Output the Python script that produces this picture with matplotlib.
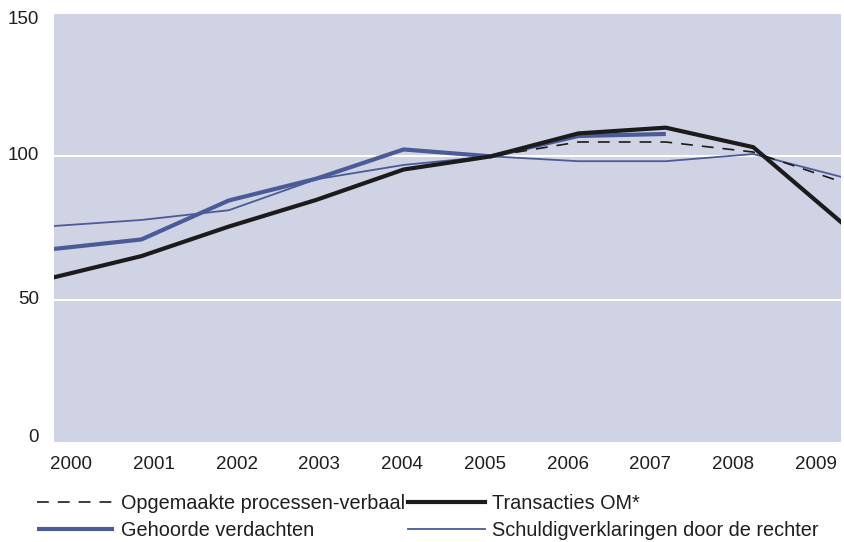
import numpy as np
import matplotlib
matplotlib.use("Agg")
import matplotlib.pyplot as plt
from matplotlib.transforms import ScaledTranslation

plt.rcParams['font.family'] = ['Liberation Sans', 'DejaVu Sans']
plt.rcParams['lines.scale_dashes'] = False

years = ['2000', '2001', '2002', '2003', '2004', '2005', '2006', '2007', '2008', '2009']
opgemaakte_pv = [57.8, 65.2, 75.5, 84.8, 95.3, 100.0, 105.0, 105.0, 101.5, 91.2]
transacties_om = [57.8, 65.2, 75.5, 84.8, 95.4, 100.0, 108.0, 110.0, 103.2, 77.2]
gehoorde_verdachten = [67.7, 71.0, 84.6, 92.2, 102.4, 100.0, 107.1, 107.8, np.nan, np.nan]
schuldigverklaringen = [75.7, 77.8, 81.2, 92.0, 97.0, 100.0, 98.3, 98.3, 100.8, 92.9]

yticks = [0, 50, 100, 150]

BG = '#d0d3e4'
BLUE = '#4a5b97'
BLACK = '#1b1b1b'

fig = plt.figure(figsize=(8.45, 5.42), dpi=100)
ax = fig.add_axes([54/845, 99/542, 786.6/845, 430/542])
ax.set_facecolor(BG)
for s in ax.spines.values():
    s.set_visible(False)

x = np.arange(len(years))
l_blue_thick, = ax.plot(x, gehoorde_verdachten, color=BLUE, lw=3.0, solid_capstyle='butt', zorder=3,
                        label='Gehoorde verdachten')
l_blue_thin, = ax.plot(x, schuldigverklaringen, color=BLUE, lw=1.3, zorder=4,
                       label='Schuldigverklaringen door de rechter')
l_dash, = ax.plot(x, opgemaakte_pv, color=BLACK, lw=1.2, dashes=(8.5, 6.5), zorder=5,
                  label='Opgemaakte processen-verbaal')
l_black, = ax.plot(x, transacties_om, color=BLACK, lw=3.0, zorder=6, label='Transacties OM*')

ax.set_xlim(0, len(years) - 1)
ax.set_ylim(0, 150)
ax.set_yticks(yticks)
ax.set_yticklabels([str(v) for v in yticks])
ax.yaxis.grid(True, color='white', lw=1.5)
ax.set_axisbelow(True)
ax.tick_params(axis='y', length=0, pad=11, labelsize=13.5, colors='#1e1e1e')

# year labels are spaced slightly tighter than the data points in the reference
xt = 0.195 + np.arange(len(years)) * 0.947
ax.set_xticks(xt)
ax.set_xticklabels(years)
ax.tick_params(axis='x', length=0, pad=9.5, labelsize=13.5, colors='#1e1e1e')

offs = {0: 8, 50: 2.5, 100: 3, 150: -4}
for lab, v in zip(ax.get_yticklabels(), yticks):
    lab.set_transform(lab.get_transform() + ScaledTranslation(0, offs[v] / 100, fig.dpi_scale_trans))

leg = fig.legend([l_dash, l_blue_thick, l_black, l_blue_thin],
                 [l_dash.get_label(), l_blue_thick.get_label(), l_black.get_label(), l_blue_thin.get_label()],
                 loc='upper left', bbox_to_anchor=(37/845, 0.089), ncol=2, frameon=False,
                 fontsize=14.3, handlelength=3.9, handletextpad=0.35, columnspacing=0.1,
                 labelspacing=0.42, borderpad=0, borderaxespad=0)
for t in leg.get_texts():
    t.set_color('#1e1e1e')

fig.savefig('out.png', dpi=100, facecolor='white')
